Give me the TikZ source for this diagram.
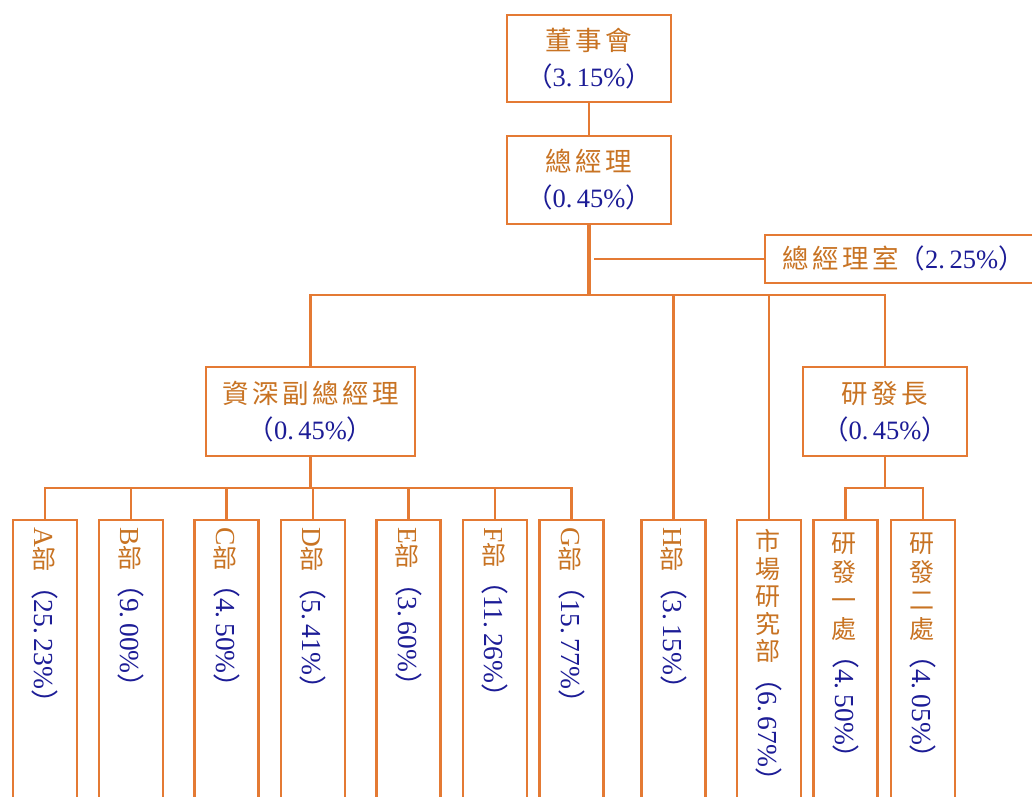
\documentclass[tikz,border=0pt]{standalone}
\usepackage{fontspec}
\setmainfont{Liberation Serif}
\newfontfamily\cjk{Noto Sans CJK TC}
\definecolor{lc}{RGB}{228,122,52}
\definecolor{tc}{RGB}{200,115,35}
\definecolor{nc}{RGB}{28,28,150}
\newcommand\zh[1]{{\cjk\color{tc}#1}}
\newcommand\la[1]{{\color{tc}#1}}
\newcommand\pd{\makebox[0.42em][l]{.}}
\newcommand\pct[1]{{\color{nc}{\cjk （}#1{\cjk ）}}}
\newcommand\ks{\kern3.5pt}
\newcommand\kv{\kern2.5pt}
\newcommand\up[1]{\rotatebox[origin=c]{90}{\fontsize{25}{30}\cjk\color{tc}\vrule height 21.5pt depth 3.5pt width 0pt #1}}
\begin{document}
\begin{tikzpicture}[x=1pt,y=-1pt,
  box/.style={draw=lc,line width=2.5pt,inner sep=0pt},
  hlab/.style={align=center,font=\fontsize{26.5}{36}\selectfont},
  vlab/.style={font=\fontsize{27.5}{30}\selectfont,inner sep=0pt,rotate=-90,anchor=west},
  tall/.style={box,minimum width=64pt,minimum height=310pt},
  conn/.style={draw=lc,line width=2.5pt},
]
\useasboundingbox (0,0) rectangle (1032,796);
\fill[white] (0,0) rectangle (1032,796);

% upper boxes
\node[box,hlab,minimum width=164pt,minimum height=87pt] (bod) at (589,58.5)
  {\zh{董\ks 事\ks 會}\\\pct{3\pd 15\%}};
\node[box,hlab,minimum width=164pt,minimum height=88pt] (gm) at (589,180)
  {\zh{總\ks 經\ks 理}\\\pct{0\pd 45\%}};
\node[box,minimum width=295pt,minimum height=48pt] (gmo) at (912.5,259) {};
\node[hlab,inner sep=0pt,anchor=west] (gmot) at (782,258)
  {\zh{總\ks 經\ks 理\ks 室}\pct{2\pd 25\%}};
\node[box,hlab,minimum width=209pt,minimum height=89pt] (svp) at (310.5,411.5)
  {\zh{資\ks 深\ks 副\ks 總\ks 經\ks 理}\\\pct{0\pd 45\%}};
\node[box,hlab,minimum width=164pt,minimum height=89pt] (rd) at (885,411.5)
  {\zh{研\ks 發\ks 長}\\\pct{0\pd 45\%}};

% lower boxes
\node[tall] (A) at (45,675) {};
\node[tall] (B) at (131,675) {};
\node[tall] (C) at (226.5,675) {};
\node[tall] (D) at (313,675) {};
\node[tall] (E) at (408.5,675) {};
\node[tall] (F) at (495,675) {};
\node[tall] (G) at (571.5,675) {};
\node[tall] (H) at (673.5,675) {};
\node[tall] (mr) at (769,675) {};
\node[tall] (r1) at (845.5,675) {};
\node[tall] (r2) at (923,675) {};

\node[vlab] (tA) at (45,527) {\la{A}\up{部}\pct{25\pd 23\%}};
\node[vlab] (tB) at (131,527) {\la{B}\up{部}\pct{9\pd 00\%}};
\node[vlab] (tC) at (226.5,527) {\la{C}\up{部}\pct{4\pd 50\%}};
\node[vlab] (tD) at (313,527) {\la{D}\up{部}\pct{5\pd 41\%}};
\node[vlab] (tE) at (408.5,527) {\la{E}\up{部}\pct{3\pd 60\%}};
\node[vlab] (tF) at (495,527) {\la{F}\up{部}\pct{11\pd 26\%}};
\node[vlab] (tG) at (571.5,527) {\la{G}\up{部}\pct{15\pd 77\%}};
\node[vlab] (tH) at (673.5,527) {\la{H}\up{部}\pct{3\pd 15\%}};
\node[vlab] (tmr) at (769,529) {\up{市}\kv\up{場}\kv\up{研}\kv\up{究}\kv\up{部}\pct{6\pd 67\%}};
\node[vlab] (tr1) at (845.5,531) {\up{研}\ks\up{發}\ks\up{一}\ks\up{處}\pct{4\pd 50\%}};
\node[vlab] (tr2) at (923,531) {\up{研}\ks\up{發}\ks\up{二}\ks\up{處}\pct{4\pd 05\%}};

% connectors
\coordinate (bus) at (589,295);
\coordinate (gmj) at (594,259);
\coordinate (sb) at (310.5,488);
\coordinate (rb) at (885,488);
\draw[conn] (bod) -- (gm);
\draw[conn,line width=4pt] (gm) -- (bus);
\draw[conn] (gmj) -- (gmo.west);
\draw[conn] (bus) -| (svp.north);
\draw[conn] (bus) -| (rd.north);
\draw[conn] (bus) -| (H.north);
\draw[conn] (bus) -| (mr.north);
\draw[conn] (svp) -- (sb);
\foreach \n in {A,B,C,D,E,F,G} \draw[conn] (sb) -| (\n.north);
\draw[conn] (rd) -- (rb);
\draw[conn] (rb) -| (r1.north);
\draw[conn] (rb) -| (r2.north);
\end{tikzpicture}
\end{document}
